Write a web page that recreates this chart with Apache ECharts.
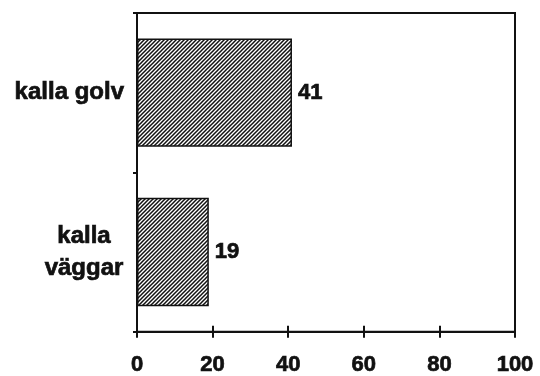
<!DOCTYPE html>
<html>
<head>
<meta charset="utf-8">
<script src="https://cdn.jsdelivr.net/npm/echarts@6/dist/echarts.min.js"></script>
<style>
  html, body { margin: 0; padding: 0; background: #fff; }
  #chart { width: 540px; height: 376px; }
</style>
</head>
<body>
<div id="chart"></div>
<script>
// Categories (top to bottom) and their values
const categories = ['kalla golv', 'kalla\nväggar'];
const values = [41, 19];
const xTicks = [0, 20, 40, 60, 80, 100];

// Diagonal hatch used to fill the bars
function hatchPattern() {
  const c = document.createElement('canvas');
  c.width = 4; c.height = 4;
  const g = c.getContext('2d');
  g.fillStyle = '#fff';
  g.fillRect(0, 0, 4, 4);
  g.strokeStyle = '#111';
  g.lineWidth = 1.5;
  g.beginPath();
  g.moveTo(-1, 5); g.lineTo(5, -1);
  g.moveTo(-1, 1); g.lineTo(1, -1);
  g.moveTo(3, 5); g.lineTo(5, 3);
  g.stroke();
  return c;
}

const font = '"Liberation Sans", Arial, sans-serif';
// a thin outline in the text colour gives the heavy bold look
const heavy = { textBorderColor: '#111', textBorderWidth: 0.7 };

const chart = echarts.init(document.getElementById('chart'), null, { renderer: 'canvas' });

chart.setOption({
  animation: false,
  backgroundColor: '#fff',
  grid: {
    left: 137, right: 25, top: 13, bottom: 43,
    show: true, borderColor: '#111', borderWidth: 2, backgroundColor: 'transparent'
  },
  xAxis: [{
    type: 'value',
    min: xTicks[0], max: xTicks[xTicks.length - 1], interval: 20,
    axisLine: { show: true, lineStyle: { color: '#111', width: 2 } },
    axisTick: { show: true, length: 6, lineStyle: { color: '#111', width: 2 } },
    splitLine: { show: false },
    axisLabel: Object.assign({
      margin: 22, color: '#111', fontFamily: font, fontWeight: 'bold', fontSize: 22
    }, heavy)
  }, {
    type: 'value', position: 'bottom',
    min: xTicks[0], max: xTicks[xTicks.length - 1], interval: 20,
    axisLine: { show: false },
    axisTick: { show: true, inside: true, length: 6, lineStyle: { color: '#111', width: 2 } },
    splitLine: { show: false },
    axisLabel: { show: false }
  }],
  yAxis: {
    type: 'category',
    inverse: true,
    data: categories,
    axisLine: { show: true, lineStyle: { color: '#111', width: 2 } },
    axisTick: { show: true, length: 4, lineStyle: { color: '#111', width: 2 } },
    axisLabel: Object.assign({
      margin: 13, color: '#111', fontFamily: font, fontWeight: 'bold', fontSize: 24,
      lineHeight: 32,
      formatter: function (v) {
        if (v.indexOf('\n') < 0) return v;
        return v.split('\n').map(function (s) { return '{c|' + s + '}'; }).join('\n');
      },
      rich: {
        c: Object.assign({ width: 80, align: 'center', fontFamily: font, fontWeight: 'bold', fontSize: 24, lineHeight: 32, color: '#111' }, heavy)
      }
    }, heavy)
  },
  series: [{
    type: 'bar',
    data: values,
    barCategoryGap: '32%',
    itemStyle: {
      color: { image: hatchPattern(), repeat: 'repeat' },
      borderColor: '#111',
      borderWidth: 1.5
    },
    label: Object.assign({
      show: true, position: 'right', distance: 6,
      color: '#111', fontFamily: font, fontWeight: 'bold', fontSize: 22
    }, heavy)
  }]
});
</script>
</body>
</html>
